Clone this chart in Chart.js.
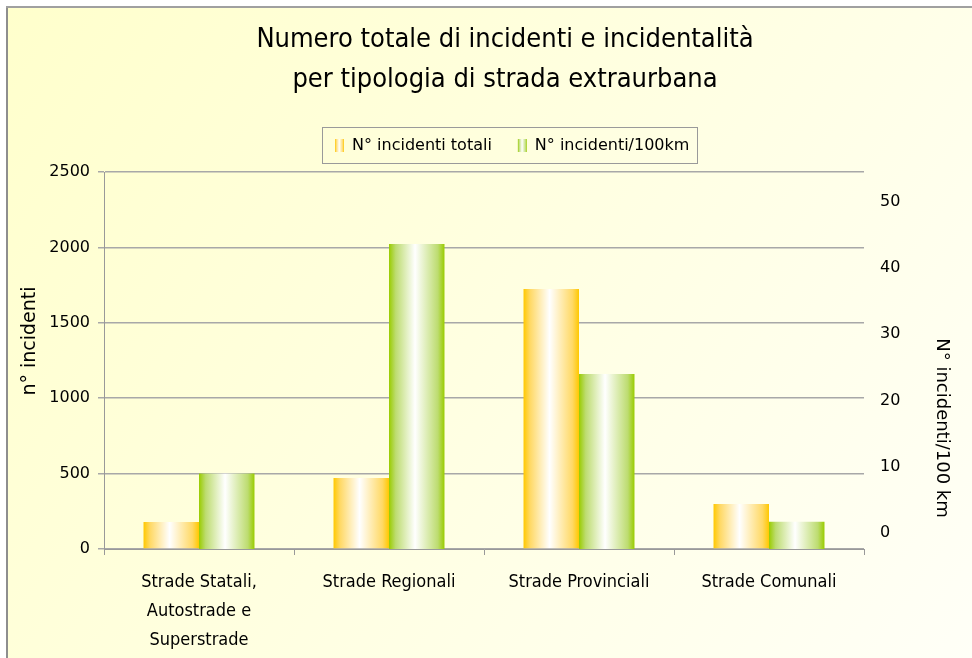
<!DOCTYPE html>
<html>
<head>
<meta charset="utf-8">
<script src="https://cdn.jsdelivr.net/npm/chart.js@4.4.1/dist/chart.umd.min.js"></script>
<style>
  html, body { margin: 0; padding: 0; background: #fff; }
  canvas { display: block; }
</style>
</head>
<body>
<canvas id="chart" width="972" height="658"></canvas>
<script>
var categories = [['Strade Statali,', 'Autostrade e', 'Superstrade'], 'Strade Regionali', 'Strade Provinciali', 'Strade Comunali'];
var seriesNames = ['N° incidenti totali', 'N° incidenti/100km'];
var incidentiTotali = [179, 471, 1724, 298];
var incidenti100km = [9.0, 43.6, 24.0, 1.7];
var leftTicks = [0, 500, 1000, 1500, 2000, 2500];
var rightTicks = [0, 10, 20, 30, 40, 50];

var condensed = '"DejaVu Sans Condensed", "Liberation Sans Narrow", "DejaVu Sans", sans-serif';
var verdana = '"DejaVu Sans", Verdana, sans-serif';
var barColors = [['#ffc800', '#ffd966'], ['#99cc00', '#bddc70']];

function barGradient(c, x0, x1, colors) {
    var g = c.createLinearGradient(x0, 0, x1, 0);
    g.addColorStop(0, colors[0]);
    g.addColorStop(0.12, colors[1]);
    g.addColorStop(0.47, '#ffffff');
    g.addColorStop(0.88, colors[1]);
    g.addColorStop(1, colors[0]);
    return g;
}

// page background with the grey frame at left and top
var backdrop = {
    id: 'backdrop',
    beforeDraw: function (chart) {
        var c = chart.ctx, w = chart.width, h = chart.height;
        c.save();
        c.fillStyle = '#ffffff';
        c.fillRect(0, 0, w, h);
        var g = c.createLinearGradient(8, 8, w, h);
        g.addColorStop(0, '#ffffcc');
        g.addColorStop(1, '#fffff7');
        c.fillStyle = g;
        c.fillRect(8, 8, w - 8, h - 8);
        c.fillStyle = '#8e8e8e';
        c.fillRect(6, 6, 2, h - 6);
        c.fillStyle = '#a0a0a0';
        c.fillRect(6, 6, w - 6, 2);
        c.restore();
    }
};

// white-centred cylinder look on every bar
var shading = {
    id: 'shading',
    beforeDatasetsDraw: function (chart) {
        chart.data.datasets.forEach(function (ds, i) {
            chart.getDatasetMeta(i).data.forEach(function (bar) {
                var g = barGradient(chart.ctx, bar.x - bar.width / 2, bar.x + bar.width / 2, barColors[i]);
                bar.options = Object.assign({}, bar.options, { backgroundColor: g });
            });
        });
    }
};

// boxed legend and the two axis titles
var legendBox = {
    id: 'legendBox',
    afterDraw: function (chart) {
        var c = chart.ctx;
        c.save();
        c.font = '16px ' + verdana;
        c.textBaseline = 'middle';
        c.textAlign = 'left';
        var widths = seriesNames.map(function (n) { return c.measureText(n).width; });
        var total = 13 + 2 * (9 + 8) + widths[0] + 26 + widths[1] + 8;
        var left = Math.round(510 - total / 2);
        c.strokeStyle = '#9a9a9a';
        c.lineWidth = 1;
        c.strokeRect(left + 0.5, 127.5, Math.round(total), 36);
        var x = left + 13;
        seriesNames.forEach(function (n, i) {
            c.fillStyle = barGradient(c, x, x + 9, barColors[i]);
            c.fillRect(x, 139, 9, 13);
            x += 17;
            c.fillStyle = '#000';
            c.fillText(n, x, 146);
            x += widths[i] + 26;
        });

        c.textAlign = 'center';
        c.font = '19px ' + verdana;
        c.translate(30, 341);
        c.rotate(-Math.PI / 2);
        c.fillText('n° incidenti', 0, 0);
        c.setTransform(1, 0, 0, 1, 0, 0);
        c.font = '18px ' + verdana;
        c.translate(942, 428);
        c.rotate(Math.PI / 2);
        c.fillText('N° incidenti/100 km', 0, 0);
        c.restore();
    }
};

var ctx = document.getElementById('chart').getContext('2d');

var chart = new Chart(ctx, {
    type: 'bar',
    data: {
        labels: categories,
        datasets: [{
            label: seriesNames[0],
            data: incidentiTotali,
            yAxisID: 'y',
            backgroundColor: barColors[0][0],
            borderWidth: 0,
            categoryPercentage: 0.584,
            barPercentage: 1
        }, {
            label: seriesNames[1],
            data: incidenti100km,
            yAxisID: 'y1',
            base: -2.4,
            backgroundColor: barColors[1][0],
            borderWidth: 0,
            categoryPercentage: 0.584,
            barPercentage: 1
        }]
    },
    options: {
        responsive: false,
        animation: false,
        devicePixelRatio: 1,
        layout: { padding: { left: 38, right: 0, top: 0, bottom: 0 } },
        plugins: {
            legend: { display: false },
            tooltip: { enabled: false },
            title: {
                display: true,
                text: ['Numero totale di incidenti e incidentalità', 'per tipologia di strada extraurbana'],
                color: '#000',
                font: { family: condensed, size: 27, weight: 'normal', lineHeight: 40 / 27 },
                padding: { top: 20, bottom: 72 }
            }
        },
        scales: {
            x: {
                grid: { drawOnChartArea: false, offset: true, tickLength: 6, color: '#999' },
                border: { color: '#999' },
                ticks: {
                    color: '#000',
                    font: { family: condensed, size: 18, lineHeight: 29 / 18 },
                    padding: 13,
                    maxRotation: 0,
                    autoSkip: false
                },
                afterFit: function (s) { s.height = 109; }
            },
            y: {
                position: 'left',
                min: 0,
                max: 2500,
                afterBuildTicks: function (s) { s.ticks = leftTicks.map(function (v) { return { value: v }; }); },
                grid: { color: '#a8a8a8', lineWidth: 1.5, tickLength: 6 },
                border: { color: '#999' },
                ticks: {
                    color: '#000',
                    font: { family: verdana, size: 16 },
                    padding: 8,
                    callback: function (v) { return String(v); }
                },
                afterFit: function (s) { s.width = 66; }
            },
            y1: {
                position: 'right',
                min: -2.4,
                max: 54.45,
                afterBuildTicks: function (s) { s.ticks = rightTicks.map(function (v) { return { value: v }; }); },
                grid: { display: false, drawTicks: false },
                border: { display: false },
                ticks: {
                    color: '#000',
                    font: { family: verdana, size: 16 },
                    padding: 16,
                    callback: function (v) { return String(v); }
                },
                afterFit: function (s) { s.width = 108; }
            }
        }
    },
    plugins: [backdrop, shading, legendBox]
});
</script>
</body>
</html>
